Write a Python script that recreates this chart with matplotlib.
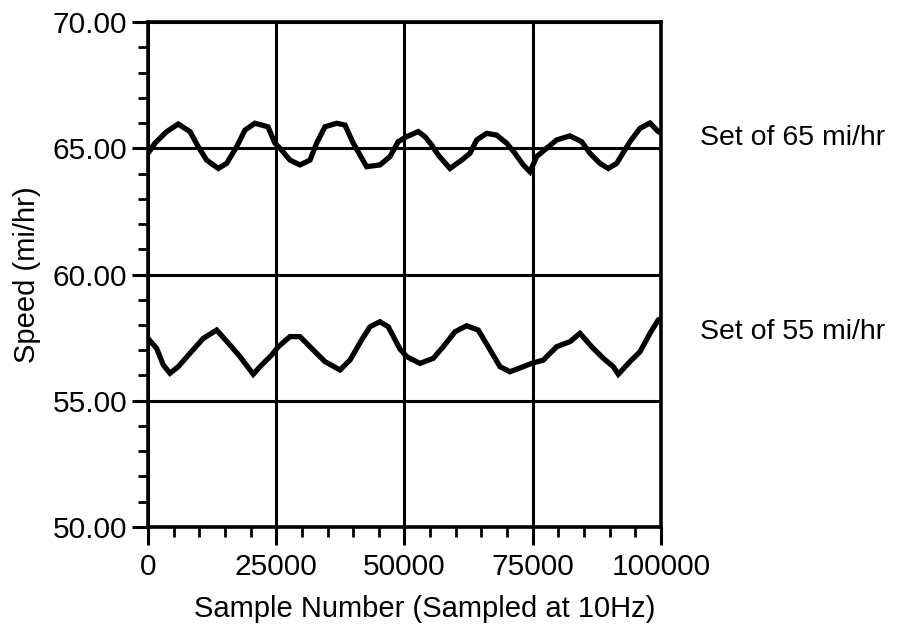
# coding: utf-8
import numpy as np
import matplotlib
matplotlib.use('Agg')
import matplotlib.pyplot as plt
from matplotlib.ticker import MultipleLocator

plt.rcParams['font.family'] = ['Liberation Sans', 'DejaVu Sans']

# speed trace at the 65 mi/hr set point (sample number, mi/hr)
samples_65 = [0, 1360, 3650, 5900, 8190, 9800, 11440, 13700, 15340, 17290,
              18910, 20860, 23390, 24760, 25730, 27680, 29630, 31580, 32880, 34500,
              36780, 38400, 40020, 41330, 42630, 45220, 47170, 48790, 50430, 52690,
              53990, 55300, 56590, 58870, 61150, 62770, 64080, 66030, 67980, 69920,
              71540, 73160, 74460, 75770, 77720, 79670, 82260, 84540, 86160, 88110,
              89730, 91360, 93960, 95910, 97860, 99470, 100000]
speed_65 = [64.8, 65.2, 65.66, 65.96, 65.66, 65.06, 64.53, 64.2, 64.4, 65.06,
            65.72, 65.99, 65.85, 65.2, 65.0, 64.53, 64.34, 64.53, 65.2, 65.85,
            65.99, 65.92, 65.2, 64.73, 64.27, 64.34, 64.67, 65.26, 65.46, 65.66,
            65.46, 65.13, 64.73, 64.2, 64.53, 64.8, 65.33, 65.59, 65.52, 65.2,
            64.8, 64.34, 64.07, 64.67, 65.0, 65.33, 65.49, 65.26, 64.8, 64.4,
            64.2, 64.4, 65.26, 65.79, 66.0, 65.66, 65.6]

# speed trace at the 55 mi/hr set point
samples_55 = [0, 1700, 2980, 4290, 5910, 8190, 10780, 13390, 15980, 17930,
              20530, 21830, 24110, 25400, 27680, 29630, 32220, 34500, 37430, 39380,
              41660, 43280, 45220, 46840, 49120, 50430, 53020, 55610, 57560, 59840,
              62120, 64380, 66330, 68620, 70570, 73160, 74790, 77060, 79670, 82260,
              84210, 86490, 88760, 90710, 91680, 93960, 95910, 97860, 99470, 100000]
speed_55 = [57.47, 57.07, 56.42, 56.09, 56.35, 56.88, 57.47, 57.8, 57.21, 56.75,
            56.05, 56.35, 56.81, 57.14, 57.54, 57.54, 57.01, 56.55, 56.22, 56.61,
            57.41, 57.93, 58.13, 57.93, 57.05, 56.75, 56.48, 56.68, 57.14, 57.73,
            57.97, 57.8, 57.14, 56.35, 56.15, 56.35, 56.48, 56.61, 57.14, 57.34,
            57.67, 57.14, 56.68, 56.35, 56.05, 56.55, 56.94, 57.67, 58.2, 58.25]

x_ticks = [0, 25000, 50000, 75000, 100000]
y_ticks = [50, 55, 60, 65, 70]
set_labels = ['Set of 65 mi/hr', 'Set of 55 mi/hr']
set_label_y = [65.41, 57.72]

fig = plt.figure(figsize=(9, 6.27), dpi=100)
ax = fig.add_axes([0.1644, 0.1595, 0.57, 0.8054])

ax.plot(samples_65, speed_65, color='black', lw=3.8, solid_joinstyle='miter')
ax.plot(samples_55, speed_55, color='black', lw=3.8, solid_joinstyle='miter')

ax.set_xlim(0, 100000)
ax.set_ylim(50, 70)
ax.set_xticks(x_ticks)
ax.set_yticks(y_ticks)
ax.set_yticklabels(['%.2f' % v for v in y_ticks])
ax.xaxis.set_minor_locator(MultipleLocator(5000))
ax.yaxis.set_minor_locator(MultipleLocator(1))

# heavy black grid on the major ticks only
ax.grid(True, which='major', color='black', lw=2.2)
ax.set_axisbelow(False)
for s in ax.spines.values():
    s.set_linewidth(2.6)

ax.tick_params(which='major', direction='out', length=11.5, width=2.2, labelsize=21.5, pad=3.5)
ax.tick_params(axis='x', which='major', length=13, pad=6)
ax.tick_params(which='minor', direction='out', length=7, width=2.0)

ax.set_xlabel('Sample Number (Sampled at 10Hz)', fontsize=21)
ax.xaxis.set_label_coords(0.539, -0.135)
ax.set_ylabel('Speed (mi/hr)', fontsize=21, labelpad=8)

# set-point labels to the right of the plot
for lab, yv in zip(set_labels, set_label_y):
    ax.text(1.076, yv, lab, transform=ax.get_yaxis_transform(), fontsize=20.5,
            va='center', ha='left', clip_on=False)

fig.savefig('out.png', dpi=100)
